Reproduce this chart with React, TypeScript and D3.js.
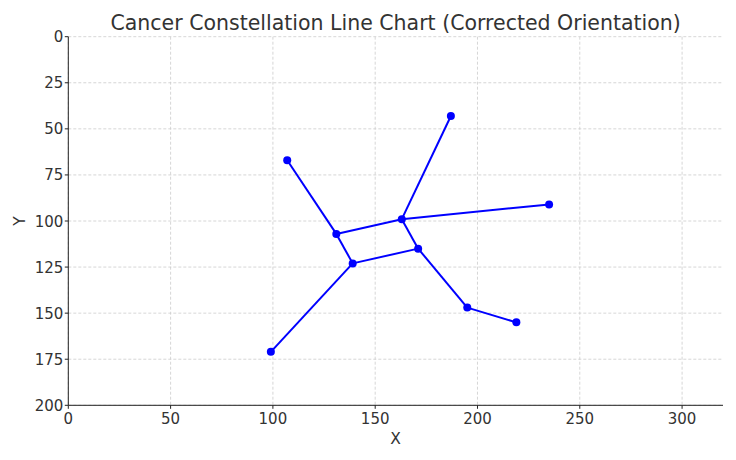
import React from "react";
import * as d3 from "d3";

const starNames = ["A", "B", "C", "D", "E", "F", "G", "H", "I", "J"];
const starX = [107, 131, 163, 187, 235, 139, 171, 195, 219, 99];
const starY = [67, 107, 99, 43, 91, 123, 115, 147, 155, 171];
const links: [number, number][] = [
  [0, 1], [1, 2], [2, 3], [2, 4], [1, 5], [5, 6], [6, 2], [6, 7], [7, 8], [5, 9],
];
const xTicks = [0, 50, 100, 150, 200, 250, 300];
const yTicks = [0, 25, 50, 75, 100, 125, 150, 175, 200];
const title = "Cancer Constellation Line Chart (Corrected Orientation)";

const W = 736, H = 460;
const L = 68.3, R = 723, T = 36.7, B = 405.3;
const font = "DejaVu Sans, sans-serif";

export default function App() {
  const x = d3.scaleLinear().domain([0, 320]).range([L, R]);
  const y = d3.scaleLinear().domain([0, 200]).range([T, B]);
  const textColor = "#333";
  return (
    <svg width={W} height={H} style={{ position: "absolute", left: 0, top: 0, background: "#fff" }} fontFamily={font}>
      <rect width={W} height={H} fill="#fff" />
      {xTicks.map((t) => (
        <line key={"gx" + t} x1={x(t)} x2={x(t)} y1={T} y2={B} stroke="#ccc" strokeWidth={0.8} strokeDasharray="3,2" />
      ))}
      {yTicks.map((t) => (
        <line key={"gy" + t} x1={L} x2={R} y1={y(t)} y2={y(t)} stroke="#ccc" strokeWidth={0.8} strokeDasharray="3,2" />
      ))}
      <line x1={L} x2={L} y1={T} y2={B} stroke="#222" strokeWidth={1} />
      <line x1={L} x2={R} y1={B} y2={B} stroke="#222" strokeWidth={1} />
      {xTicks.map((t) => (
        <g key={"tx" + t}>
          <line x1={x(t)} x2={x(t)} y1={B} y2={B + 3.5} stroke="#222" />
          <text x={x(t)} y={B + 18.5} textAnchor="middle" fontSize={15} fill={textColor}>{t}</text>
        </g>
      ))}
      {yTicks.map((t) => (
        <g key={"ty" + t}>
          <line x1={L - 3.5} x2={L} y1={y(t)} y2={y(t)} stroke="#222" />
          <text x={L - 5} y={y(t) + 5.5} textAnchor="end" fontSize={15} fill={textColor}>{t}</text>
        </g>
      ))}
      <text x={(L + R) / 2} y={444} textAnchor="middle" fontSize={15.5} fill={textColor}>X</text>
      <text transform={`translate(25,${(T + B) / 2}) rotate(-90)`} textAnchor="middle" fontSize={15.5} fill={textColor}>Y</text>
      <text x={(L + R) / 2} y={29.5} textAnchor="middle" fontSize={20.5} fill={textColor}>{title}</text>
      {links.map(([a, b], i) => (
        <line key={"l" + i} x1={x(starX[a])} y1={y(starY[a])} x2={x(starX[b])} y2={y(starY[b])} stroke="#0000ff" strokeWidth={2} />
      ))}
      {starNames.map((n, i) => (
        <circle key={n} cx={x(starX[i])} cy={y(starY[i])} r={4} fill="#0000ff" />
      ))}
    </svg>
  );
}
